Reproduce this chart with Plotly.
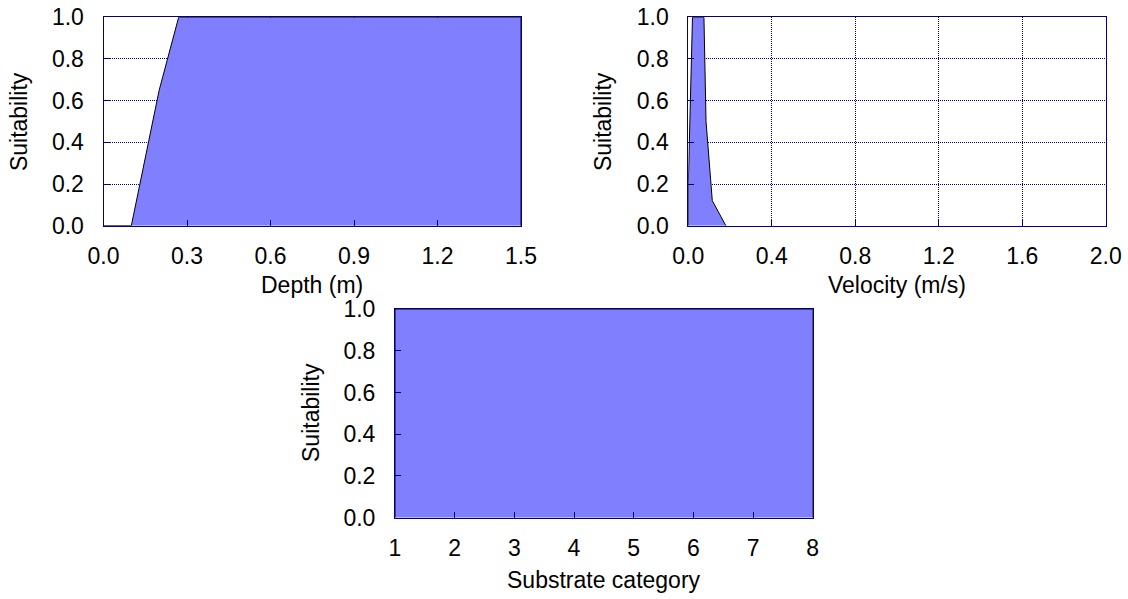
import plotly.graph_objects as go

# ---- data ----
depth_x = [0.0, 0.1, 0.2, 0.27, 1.5]
depth_y = [0.0, 0.0, 0.65, 1.0, 1.0]

vel_x = [0.0, 0.02, 0.075, 0.085, 0.115, 0.18]
vel_y = [0.2, 1.0, 1.0, 0.5, 0.12, 0.0]

sub_x = [1, 2, 3, 4, 5, 6, 7, 8]
sub_y = [1, 1, 1, 1, 1, 1, 1, 1]

depth_ticks = [0.0, 0.3, 0.6, 0.9, 1.2, 1.5]
vel_ticks = [0.0, 0.4, 0.8, 1.2, 1.6, 2.0]
sub_ticks = [1, 2, 3, 4, 5, 6, 7, 8]
suit_ticks = [0.0, 0.2, 0.4, 0.6, 0.8, 1.0]

W, H = 1128, 599
FONT = "Liberation Sans, Arial, sans-serif"
FS = 23
NAVY = "#000080"
FILL = "#8080FF"


def closed(xs, ys):
    return [xs[0]] + list(xs) + [xs[-1]], [0] + list(ys) + [0]


fig = go.Figure()
for i, (xs, ys) in enumerate([(depth_x, depth_y), (vel_x, vel_y), (sub_x, sub_y)]):
    px, py = closed(xs, ys)
    sfx = "" if i == 0 else str(i + 1)
    fig.add_trace(go.Scatter(x=px, y=py, fill="toself", fillcolor=FILL,
                             mode="lines", line=dict(color="black", width=1),
                             xaxis="x" + sfx, yaxis="y" + sfx,
                             showlegend=False, hoverinfo="skip"))


def fx(a):
    return a / W


def fy(a):
    return 1 - a / H


panels = [
    ((103.5, 521), (17.3, 225.7), [0, 1.5], depth_ticks, ".1f"),
    ((688.3, 1105.7), (17.3, 225.7), [0, 2.0], vel_ticks, ".1f"),
    ((395, 812.7), (309, 517.7), [1, 8], sub_ticks, "d"),
]

common = dict(showline=True, linecolor=NAVY, linewidth=1, mirror=True,
              showgrid=True, gridcolor=NAVY, gridwidth=1, griddash="1px,1px",
              ticks="inside", ticklen=6, tickcolor=NAVY, zeroline=False,
              automargin=False, ticklabeloverflow="allow",
              tickfont=dict(family=FONT, size=FS, color="black"))

layout = {}
for i, (xd, yd, xr, xt, fmt) in enumerate(panels):
    sfx = "" if i == 0 else str(i + 1)
    layout["xaxis" + sfx] = dict(domain=[fx(xd[0]), fx(xd[1])], range=xr, tickvals=xt,
                                 tickformat=fmt, anchor="y" + sfx,
                                 ticklabelstandoff=10, **common)
    layout["yaxis" + sfx] = dict(domain=[fy(yd[1]), fy(yd[0])], range=[0, 1],
                                 tickvals=suit_ticks, tickformat=".1f", anchor="x" + sfx,
                                 ticklabelstandoff=14, **common)

annots = []
titles = [
    ("Depth (m)", 312.25, 285, 0),
    ("Velocity (m/s)", 897, 285, 0),
    ("Substrate category", 604, 580, 0),
    ("Suitability", 19.6, 121.5, -90),
    ("Suitability", 603.6, 121.5, -90),
    ("Suitability", 311, 413, -90),
]
for text, x, y, ang in titles:
    annots.append(dict(text=text, x=fx(x), y=fy(y), xref="paper", yref="paper",
                       showarrow=False, textangle=ang, xanchor="center", yanchor="middle",
                       font=dict(family=FONT, size=FS, color="black")))

fig.update_layout(width=W, height=H, margin=dict(l=0, r=0, t=0, b=0, pad=0),
                  autosize=False,
                  paper_bgcolor="white", plot_bgcolor="white",
                  annotations=annots, **layout)

# remove the default 8px page margin so the figure sits at the window origin
fig.write_html("out.html",
               config={"displayModeBar": False},
               post_script="document.body.style.margin='0px';"
                           "document.body.style.overflow='hidden';")
